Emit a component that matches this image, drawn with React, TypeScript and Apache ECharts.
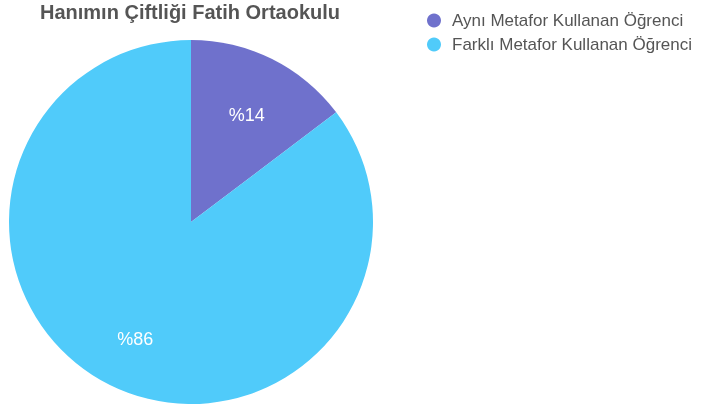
import React, { useEffect, useRef } from "react";
import * as echarts from "echarts";

const titleText = "Hanımın Çiftliği Fatih Ortaokulu";
const categories = ["Aynı Metafor Kullanan Öğrenci", "Farklı Metafor Kullanan Öğrenci"];
const values = [14.7, 85.3];
const labelTexts = ["%14", "%86"];
const colors = ["#6f71cc", "#50cbfa"];

const FONT = "Liberation Sans, Arial, sans-serif";

export default function App() {
  const ref = useRef<HTMLDivElement>(null);
  useEffect(() => {
    if (!ref.current) return;
    const chart = echarts.init(ref.current, null, { renderer: "svg" });
    const data = categories.map((name, i) => ({ name, value: values[i], itemStyle: { color: colors[i] } }));
    chart.setOption({
      animation: false,
      textStyle: { fontFamily: FONT },
      title: {
        text: titleText,
        left: 185,
        textAlign: "center",
        top: -3,
        textStyle: { fontSize: 20, fontWeight: "bold", color: "#555", fontFamily: FONT },
      },
      legend: {
        orient: "vertical",
        left: 422,
        top: 7,
        icon: "circle",
        itemWidth: 14,
        itemHeight: 14,
        itemGap: 7,
        data: categories,
        textStyle: { fontSize: 17, color: "#555", fontFamily: FONT, padding: [0, 0, 0, 6] },
      },
      series: [
        {
          type: "pie",
          center: [191, 222],
          radius: [0, 182],
          startAngle: 90,
          clockwise: true,
          label: { show: false },
          labelLine: { show: false },
          data,
        },
        {
          type: "pie",
          silent: true,
          center: [191, 227],
          radius: [62, 182],
          startAngle: 90,
          clockwise: true,
          itemStyle: { color: "transparent" },
          label: {
            show: true,
            position: "inside",
            formatter: (p: any) => labelTexts[p.dataIndex],
            color: "#fff",
            fontSize: 18,
            fontFamily: FONT,
          },
          labelLine: { show: false },
          data: categories.map((name, i) => ({ name, value: values[i], itemStyle: { color: "transparent" } })),
        },
      ],
    });
    return () => chart.dispose();
  }, []);
  return <div ref={ref} style={{ position: "fixed", left: 0, top: 0, width: 704, height: 408 }} />;
}
